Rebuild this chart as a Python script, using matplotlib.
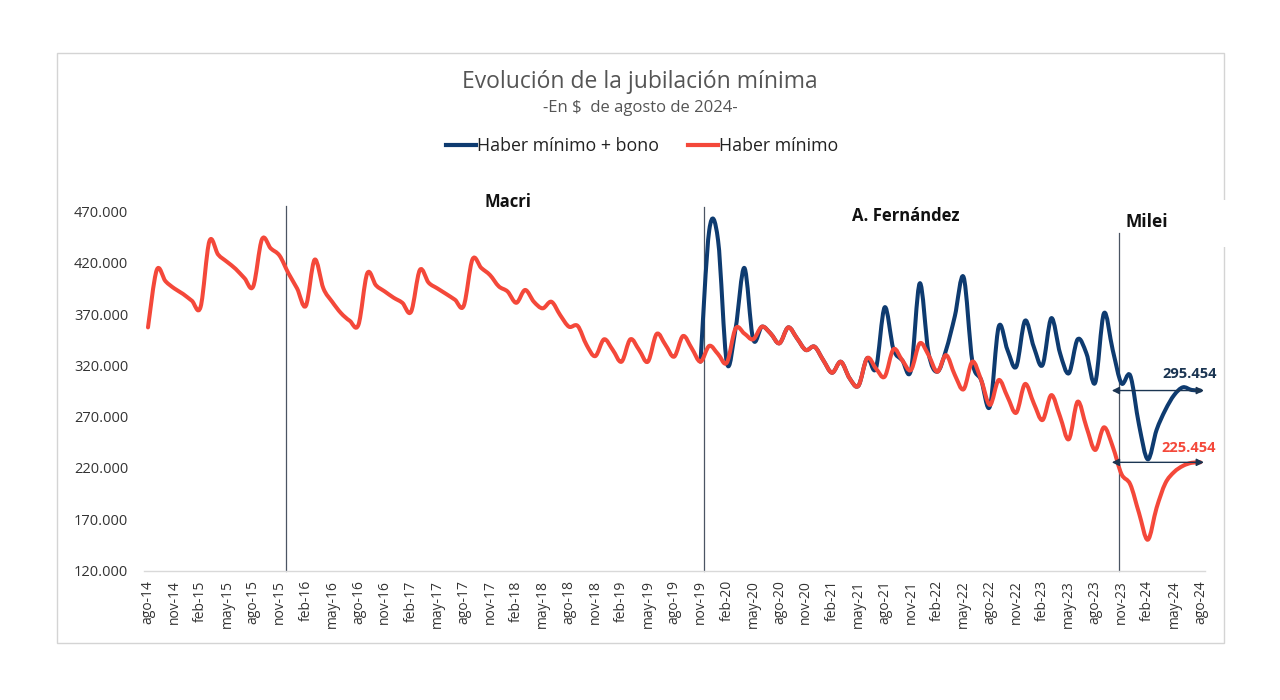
import matplotlib
matplotlib.use("Agg")
import matplotlib.pyplot as plt
from matplotlib.path import Path
from matplotlib.patches import PathPatch, Rectangle
from matplotlib.lines import Line2D
from matplotlib.ticker import FuncFormatter

# ---------------- data ----------------
tick_labels = [
    "ago-14", "nov-14", "feb-15", "may-15", "ago-15", "nov-15", "feb-16", "may-16",
    "ago-16", "nov-16", "feb-17", "may-17", "ago-17", "nov-17", "feb-18", "may-18",
    "ago-18", "nov-18", "feb-19", "may-19", "ago-19", "nov-19", "feb-20", "may-20",
    "ago-20", "nov-20", "feb-21", "may-21", "ago-21", "nov-21", "feb-22", "may-22",
    "ago-22", "nov-22", "feb-23", "may-23", "ago-23", "nov-23", "feb-24", "may-24",
    "ago-24",
]

# Haber mínimo, monthly ago-14 ... ago-24 (thousands of $ of ago-2024)
haber_minimo = [
    357, 413, 402, 395, 389.6, 383, 377, 441, 428, 421, 414, 405, 397,     # ago-14 .. ago-15
    443, 434, 427, 410, 395, 378, 423, 395, 382, 371, 363.5, 359.6,        # sep-15 .. ago-16
    409.7, 398, 392, 386, 381, 372.3, 413, 400.6, 395, 389.6, 384, 378,    # sep-16 .. ago-17
    423.4, 415, 408, 397, 392, 381, 393.5, 382, 375.6, 382, 369, 357.7,    # sep-17 .. ago-18
    358.4, 340, 329, 345.4, 335, 323.6, 345.4, 335, 323.6, 350.6, 340, 328.5,  # sep-18 .. ago-19
    348.6, 336.6, 323.6, 339, 331, 322.6, 356, 351, 345.4, 357.7, 351, 341.5,  # sep-19 .. ago-20
    357, 346.4, 335, 338.2, 325, 312.8, 323.5, 307.4, 300, 327, 317, 309,      # sep-20 .. ago-21
    335.7, 325, 315.5, 341.5, 330, 313.8, 330, 310.6, 296.7, 323.6, 305.7, 281.4,  # sep-21 .. ago-22
    305.7, 289.4, 273.8, 301.8, 283, 266.7, 291, 270, 248, 284.6, 260, 237.5,  # sep-22 .. ago-23
    259.6, 240.8, 214, 204, 176, 150, 181, 205, 216, 222, 225, 225.454,        # sep-23 .. ago-24
]

# Haber mínimo + bono, monthly nov-19 ... ago-24
bono_start = 63  # index of nov-19
haber_minimo_bono = [
    323.6, 452, 442, 322.6, 356, 415, 345.4, 357.7, 351, 341.5,                # nov-19 .. ago-20
    357, 346.4, 335, 338.2, 325, 312.8, 323.5, 307.4, 300, 327, 317, 376.6,    # sep-20 .. ago-21
    335.7, 325, 315.5, 400, 332, 313.8, 335, 368, 406, 323.6, 305.7, 280,      # sep-21 .. ago-22
    357.7, 335, 318.7, 363.5, 338, 320.3, 366, 331.7, 312.3, 345.4, 331.7, 303,  # sep-22 .. ago-23
    370.8, 335, 302.5, 310, 262, 228.4, 257, 276.5, 291, 298.6, 296, 295.454,  # sep-23 .. ago-24
]

periods = ["Macri", "A. Fernández", "Milei"]
period_lines = [15.75, 63.4, 110.75]
final_labels = ["295.454", "225.454"]

# ---------------- style ----------------
BLUE = "#0E3B70"
RED = "#F4483A"
NAVY = "#1B3552"
FONT = ["Open Sans", "DejaVu Sans"]
plt.rcParams["font.family"] = FONT


def smooth_path(xs, ys):
    verts = [(xs[0], ys[0])]
    codes = [Path.MOVETO]
    n = len(xs)
    for k in range(n - 1):
        p0 = (xs[k - 1], ys[k - 1]) if k > 0 else (xs[k], ys[k])
        p1 = (xs[k], ys[k])
        p2 = (xs[k + 1], ys[k + 1])
        p3 = (xs[k + 2], ys[k + 2]) if k + 2 < n else p2
        c1 = (p1[0] + (p2[0] - p0[0]) / 6.0, p1[1] + (p2[1] - p0[1]) / 6.0)
        c2 = (p2[0] - (p3[0] - p1[0]) / 6.0, p2[1] - (p3[1] - p1[1]) / 6.0)
        verts += [c1, c2, p2]
        codes += [Path.CURVE4] * 3
    return Path(verts, codes)


W, H = 1280, 700
fig = plt.figure(figsize=(W / 100, H / 100), dpi=100)
fig.patch.set_facecolor("white")

# outer frame
fig.patches.append(Rectangle((57 / W, 1 - 643 / H), (1224 - 57) / W, (643 - 53) / H,
                             transform=fig.transFigure, fill=False,
                             edgecolor="#d4d4d4", lw=1.0, zorder=0))
fig.patches.append(Rectangle((1214 / W, 1 - 247 / H), 20 / W, 47 / H,
                             transform=fig.transFigure, facecolor="white",
                             edgecolor="none", zorder=0.5))

ax = fig.add_axes([143.6 / W, 1 - 570.5 / H, (1204.8 - 143.6) / W, (570.5 - 211.5) / H])
ax.set_xlim(-0.5, 120.5)
ax.set_ylim(120000, 470000)
ax.set_facecolor("none")

red_x = list(range(len(haber_minimo)))
red_y = [v * 1000 for v in haber_minimo]
blue_x = list(range(bono_start, bono_start + len(haber_minimo_bono)))
blue_y = [v * 1000 for v in haber_minimo_bono]

ax.add_patch(PathPatch(smooth_path(blue_x, blue_y), fill=False, edgecolor=BLUE,
                       lw=2.9, capstyle="round", joinstyle="round", zorder=3,
                       clip_on=False))
ax.add_patch(PathPatch(smooth_path(red_x, red_y), fill=False, edgecolor=RED,
                       lw=2.9, capstyle="round", joinstyle="round", zorder=4,
                       clip_on=False))

# period separators
tops = [475500, 474500, 449000]
for xv, top in zip(period_lines, tops):
    ax.plot([xv, xv], [120000, top], color="#4B5563", lw=0.9, clip_on=False, zorder=2)

# axes styling
for s in ["left", "right", "top"]:
    ax.spines[s].set_visible(False)
ax.spines["bottom"].set_color("#d9d9d9")
ax.spines["bottom"].set_linewidth(1.0)
ax.set_yticks(range(120000, 470001, 50000))
ax.yaxis.set_major_formatter(FuncFormatter(lambda v, p: f"{int(v):,}".replace(",", ".")))
ax.set_xticks(range(0, 121, 3))
ax.set_xticklabels(tick_labels, rotation=90)
ax.tick_params(axis="y", length=0, pad=11, labelsize=10.5, labelcolor="#333333")
ax.tick_params(axis="x", length=0, pad=7, labelsize=10, labelcolor="#333333")

# final value arrows and labels
ax.annotate("", xy=(120.4, 295454), xytext=(109.9, 295454),
            arrowprops=dict(arrowstyle="<|-|>", color=NAVY, lw=1.0, mutation_scale=11,
                            shrinkA=0, shrinkB=0), annotation_clip=False, zorder=6)
ax.annotate("", xy=(120.4, 225454), xytext=(109.9, 225454),
            arrowprops=dict(arrowstyle="<|-|>", color=NAVY, lw=1.0, mutation_scale=11,
                            shrinkA=0, shrinkB=0), annotation_clip=False, zorder=6)
fig.text(1190 / W, 1 - 374 / H, final_labels[0], ha="center", va="center",
         fontsize=10.5, fontweight="bold", color=NAVY)
fig.text(1189 / W, 1 - 448 / H, final_labels[1], ha="center", va="center",
         fontsize=10.5, fontweight="bold", color=RED)

# period names
fig.text(508 / W, 1 - 202 / H, periods[0], ha="center", va="center",
         fontsize=12, fontweight="bold", color="#111111")
fig.text(906 / W, 1 - 216 / H, periods[1], ha="center", va="center",
         fontsize=12, fontweight="bold", color="#111111")
fig.text(1147 / W, 1 - 222 / H, periods[2], ha="center", va="center",
         fontsize=12.5, fontweight="bold", color="#111111")

# titles
fig.text(640 / W, 1 - 82 / H, "Evolución de la jubilación mínima", ha="center",
         va="center", fontsize=16.5, color="#555555")
fig.text(640 / W, 1 - 108 / H, "-En $  de agosto de 2024-", ha="center",
         va="center", fontsize=12, color="#555555")

# legend
handles = [Line2D([], [], color=BLUE, lw=3), Line2D([], [], color=RED, lw=3)]
fig.legend(handles, ["Haber mínimo + bono", "Haber mínimo"], loc="center",
           bbox_to_anchor=(642 / W, 1 - 146 / H), ncol=2, frameon=False,
           fontsize=12.8, handlelength=1.7, handletextpad=0.05, columnspacing=1.6,
           labelcolor="#222222")

fig.savefig("out.png", dpi=100, facecolor="white")
